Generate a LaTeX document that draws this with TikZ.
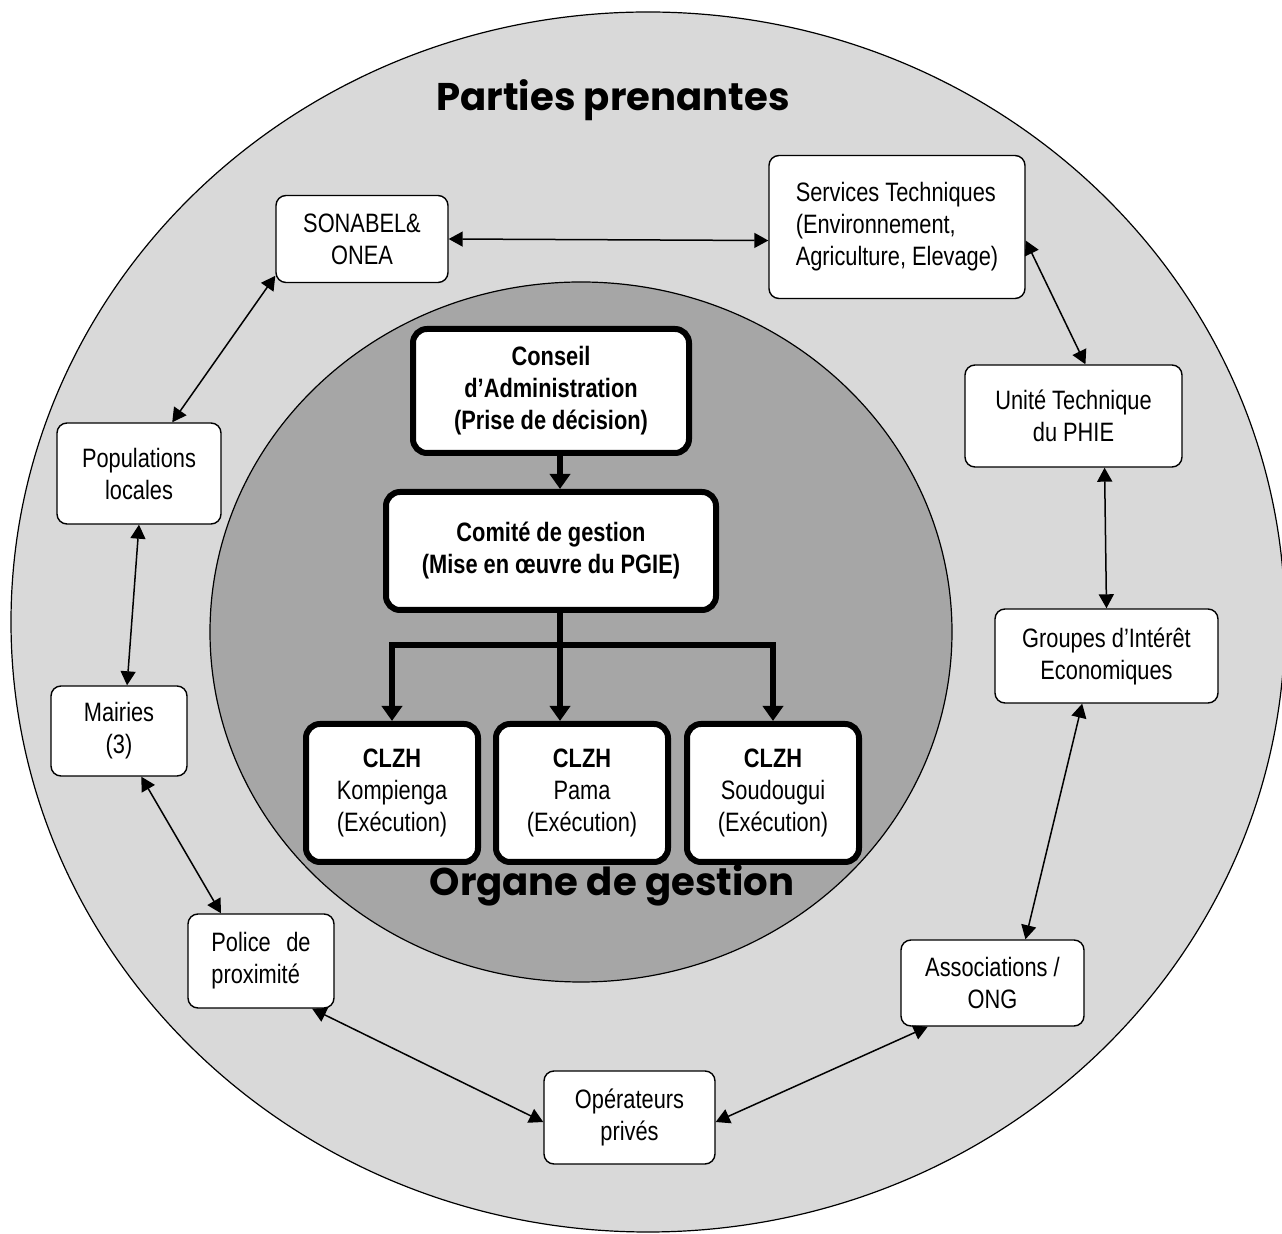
\documentclass[tikz,border=0pt]{standalone}
\usepackage{fontspec}
\setmainfont{Liberation Sans}[FakeStretch=0.82]
\newfontfamily\titlefont{Poppins}
\usetikzlibrary{arrows.meta}
\definecolor{ringgray}{HTML}{D9D9D9}
\definecolor{coregray}{HTML}{A6A6A6}
\tikzset{
  stake/.style={draw, line width=0.7pt, fill=white, rounded corners=5pt, align=center, inner sep=2pt, font=\fontsize{13.3}{16}\selectfont},
  organ/.style={draw, line width=3pt, fill=white, rounded corners=7pt, align=center, inner sep=2pt, font=\fontsize{13.3}{16}\selectfont},
  link/.style={{Triangle[length=7pt,width=7.5pt]}-{Triangle[length=7pt,width=7.5pt]}, line width=0.75pt},
  flow/.style={-{Triangle[length=7.5pt,width=10pt]}, line width=3pt},
  heading/.style={font=\titlefont\bfseries\fontsize{19.3}{23}\selectfont}
}

\begin{document}
\begin{tikzpicture}[x=0.5pt,y=-0.5pt]
\useasboundingbox (0,0) rectangle (1282,1234);
\draw [fill=ringgray, line width=0.6pt] (648,622) ellipse [x radius=318.5pt, y radius=305pt];
\draw [fill=coregray, line width=0.6pt] (581,632) ellipse [x radius=185.5pt, y radius=175pt];

% parties prenantes
\node [stake, minimum width=86pt, minimum height=43.5pt] (sonabel) at (362,239) {SONABEL\&\\ONEA};
\node [stake, minimum width=128pt, minimum height=71.5pt, align=left] (services) at (897,227) {Services Techniques\\(Environnement,\\Agriculture, Elevage)};
\node [stake, minimum width=108.5pt, minimum height=51pt] (unite) at (1073.5,416) {Unité Technique\\du PHIE};
\node [stake, minimum width=111.5pt, minimum height=47pt] (groupes) at (1106.5,656) {Groupes d’Intérêt\\Economiques};
\node [stake, minimum width=91.5pt, minimum height=43pt] (assoc) at (992.5,983) {Associations /\\ONG};
\node [stake, minimum width=85.5pt, minimum height=46.5pt] (operateurs) at (629.5,1117.5) {Opérateurs\\privés};
\node [stake, minimum width=73pt, minimum height=47pt, align=left] (police) at (261,961) {Police\hspace{4.7pt} de\\proximité};
\node [stake, minimum width=68pt, minimum height=45pt] (mairies) at (119,731) {Mairies\\(3)};
\node [stake, minimum width=82pt, minimum height=50.5pt] (populations) at (139,473.5) {Populations\\locales};

% organe de gestion
\node [organ, minimum width=138pt, minimum height=62pt] (conseil) at (551,391) {\textbf{Conseil}\\\textbf{d’Administration}\\\textbf{(Prise de décision)}};
\node [organ, minimum width=165pt, minimum height=59pt] (comite) at (551,551) {\textbf{Comité de gestion}\\\textbf{(Mise en œuvre du PGIE)}};
\node [organ, minimum width=86pt, minimum height=69pt] (kompienga) at (392,793) {\textbf{CLZH}\\Kompienga\\(Exécution)};
\node [organ, minimum width=86pt, minimum height=69pt] (pama) at (582,793) {\textbf{CLZH}\\Pama\\(Exécution)};
\node [organ, minimum width=86pt, minimum height=69pt] (soudougui) at (773,793) {\textbf{CLZH}\\Soudougui\\(Exécution)};

\node [heading] (parties) at (613,100) {Parties prenantes};
\node [heading] (organe) at (612,885) {Organe de gestion};

\draw [link] (sonabel.east) -- (services.186);
\draw [link] (sonabel.203) -- (populations.57);
\draw [link] (populations.south) -- (mairies.80);
\draw [link] (mairies.-64) -- (police.130);
\draw [link] (police.-43) -- (operateurs.183);
\draw [link] (operateurs.-3) -- (assoc.-146);
\draw [link] (assoc.53) -- (groupes.-117);
\draw [link] (groupes.north) -- (unite.-59);
\draw [link] (unite.77) -- (services.-6);

\coordinate (fork) at (560,645);
\draw [flow] (fork |- conseil.south) -- (fork |- comite.north);
\draw [flow] (fork |- comite.south) -- (fork |- pama.north);
\draw [flow] (fork) -| (kompienga.north);
\draw [flow] (fork) -| (soudougui.north);
\end{tikzpicture}
\end{document}
